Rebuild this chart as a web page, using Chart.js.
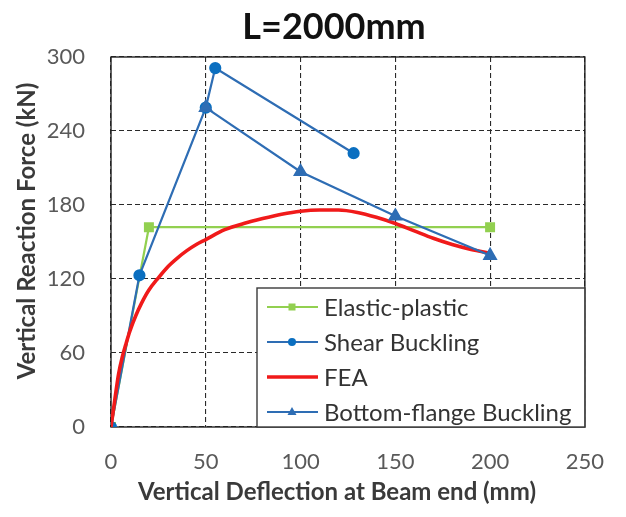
<!DOCTYPE html>
<html>
<head>
<meta charset="utf-8">
<script src="https://cdn.jsdelivr.net/npm/chart.js@4.4.1/dist/chart.umd.min.js"></script>
<style>
  html, body { margin: 0; padding: 0; background: #ffffff; }
  #wrap { width: 626px; height: 517px; position: relative; }
</style>
</head>
<body>
<div id="wrap"><canvas id="chart" width="626" height="517"></canvas></div>
<script>
// Titles and tick values
const chartTitle = 'L=2000mm';
const xTitle = 'Vertical Deflection at Beam end (mm)';
const yTitle = 'Vertical Reaction Force (kN)';
const xTickValues = [0, 50, 100, 150, 200, 250];
const yTickValues = [0, 60, 120, 180, 240, 300];

// Series labels
const seriesNames = ['Elastic-plastic', 'Shear Buckling', 'FEA', 'Bottom-flange Buckling'];

// Elastic-plastic model
const elasticX = [0, 20, 200];
const elasticY = [0, 162, 162];

// Shear buckling model
const shearX = [0, 15, 50, 55, 128];
const shearY = [0, 123, 259, 291, 222];

// Finite element analysis curve
const feaX = [0, 2, 4, 6, 8, 10, 13, 16, 20, 25, 30, 35, 40, 45, 50, 60, 70, 80, 90, 100, 110, 120, 130, 140, 150, 160, 170, 180, 190, 200];
const feaY = [0, 22, 43, 57, 68, 78, 90, 100, 111, 121, 130, 137, 143, 148, 152, 160, 165, 169, 172.5, 175, 176, 176, 174, 170, 165, 159, 153, 148, 144, 141];

// Bottom-flange buckling model
const flangeX = [50, 100, 150, 200];
const flangeY = [259, 207, 171, 139];

const toPoints = (xs, ys) => xs.map((x, i) => ({ x: x, y: ys[i] }));

const FONT = 'Lato, "Open Sans", "DejaVu Sans", sans-serif';
const GREEN = '#92D050';
const BLUE = '#0B6FC0';
const BLUE2 = '#2E6DB4';
const RED = '#F01A1A';

const datasets = [
  {
    label: seriesNames[0], data: toPoints(elasticX, elasticY),
    borderColor: GREEN, backgroundColor: GREEN, borderWidth: 2.2,
    pointStyle: 'rect', pointRadius: 5.5, order: 3
  },
  {
    label: seriesNames[1], data: toPoints(shearX, shearY),
    borderColor: BLUE2, backgroundColor: BLUE, borderWidth: 2.2,
    pointStyle: 'circle', pointRadius: 5, pointBorderColor: BLUE, order: 2
  },
  {
    label: seriesNames[2], data: toPoints(feaX, feaY),
    borderColor: RED, backgroundColor: RED, borderWidth: 3.6,
    pointRadius: 0, cubicInterpolationMode: 'monotone', order: 1
  },
  {
    label: seriesNames[3], data: toPoints(flangeX, flangeY),
    borderColor: BLUE2, backgroundColor: BLUE2, borderWidth: 2.2,
    pointStyle: 'triangle', pointRadius: 6.5, pointBorderColor: BLUE2, order: 0
  }
];

// Frame around the plot area, drawn beneath the series
const framePlugin = {
  id: 'plotFrame',
  beforeDatasetsDraw(chart) {
    const { ctx, chartArea: a } = chart;
    ctx.save();
    ctx.strokeStyle = '#222222';
    ctx.lineWidth = 1.4;
    ctx.strokeRect(a.left, a.top, a.right - a.left, a.bottom - a.top);
    ctx.restore();
  }
};

// Chart title, axis titles and the boxed legend inside the plot area
const textPlugin = {
  id: 'texts',
  afterDraw(chart) {
    const { ctx, chartArea: a } = chart;
    ctx.save();
    ctx.textAlign = 'center';
    ctx.textBaseline = 'middle';

    ctx.fillStyle = '#111111';
    ctx.font = 'bold 36px ' + FONT;
    ctx.fillText(chartTitle, 334, 27);

    ctx.fillStyle = '#3a3a3a';
    ctx.font = 'bold 24px ' + FONT;
    ctx.fillText(xTitle, 337, 492);

    ctx.save();
    ctx.translate(27, 231);
    ctx.rotate(-Math.PI / 2);
    ctx.fillText(yTitle, 0, 0);
    ctx.restore();

    // legend box
    const bx = 257, by = 288, bw = a.right - bx, bh = a.bottom - by;
    ctx.fillStyle = '#ffffff';
    ctx.fillRect(bx, by, bw, bh);
    ctx.strokeStyle = '#3a3a3a';
    ctx.lineWidth = 1.4;
    ctx.strokeRect(bx, by, bw, bh);

    const rows = [307, 342, 377, 412];
    chart.data.datasets.forEach((ds, i) => {
      const y = rows[i];
      ctx.strokeStyle = ds.borderColor;
      ctx.lineWidth = i === 2 ? 3.6 : 2.2;
      ctx.beginPath();
      ctx.moveTo(267, y);
      ctx.lineTo(318, y);
      ctx.stroke();
      ctx.fillStyle = ds.backgroundColor;
      const cx = 292;
      if (ds.pointStyle === 'rect' && ds.pointRadius > 0) {
        ctx.fillRect(cx - 3.5, y - 3.5, 7, 7);
      } else if (ds.pointStyle === 'circle' && ds.pointRadius > 0) {
        ctx.beginPath();
        ctx.arc(cx, y, 4, 0, Math.PI * 2);
        ctx.fill();
      } else if (ds.pointStyle === 'triangle') {
        ctx.beginPath();
        ctx.moveTo(cx, y - 5);
        ctx.lineTo(cx + 4.5, y + 3);
        ctx.lineTo(cx - 4.5, y + 3);
        ctx.closePath();
        ctx.fill();
      }
      ctx.fillStyle = '#333333';
      ctx.font = '24px ' + FONT;
      ctx.textAlign = 'left';
      ctx.fillText(ds.label, 324, y + 1);
    });
    ctx.restore();
  }
};

new Chart(document.getElementById('chart'), {
  type: 'scatter',
  data: { datasets: datasets },
  options: {
    responsive: false,
    animation: false,
    devicePixelRatio: 1,
    showLine: true,
    layout: { padding: { left: 0, right: 37, top: 57, bottom: 0 } },
    plugins: {
      legend: { display: false },
      title: { display: false },
      tooltip: { enabled: false }
    },
    elements: { line: { tension: 0 } },
    scales: {
      x: {
        type: 'linear', min: 0, max: 250,
        afterFit(scale) { scale.height = 90; },
        afterBuildTicks(scale) { scale.ticks = xTickValues.map(v => ({ value: v })); },
        grid: { color: '#2a2a2a', lineWidth: 1.1, drawTicks: false },
        border: { display: false, dash: [5, 3] },
        ticks: { color: '#595959', font: { family: FONT, size: 22 }, padding: 22, maxRotation: 0 }
      },
      y: {
        type: 'linear', min: 0, max: 300,
        afterFit(scale) { scale.width = 111; },
        afterBuildTicks(scale) { scale.ticks = yTickValues.map(v => ({ value: v })); },
        grid: { color: '#2a2a2a', lineWidth: 1.1, drawTicks: false },
        border: { display: false, dash: [5, 3] },
        ticks: { color: '#595959', font: { family: FONT, size: 22 }, padding: 26 }
      }
    }
  },
  plugins: [framePlugin, textPlugin]
});
</script>
</body>
</html>
